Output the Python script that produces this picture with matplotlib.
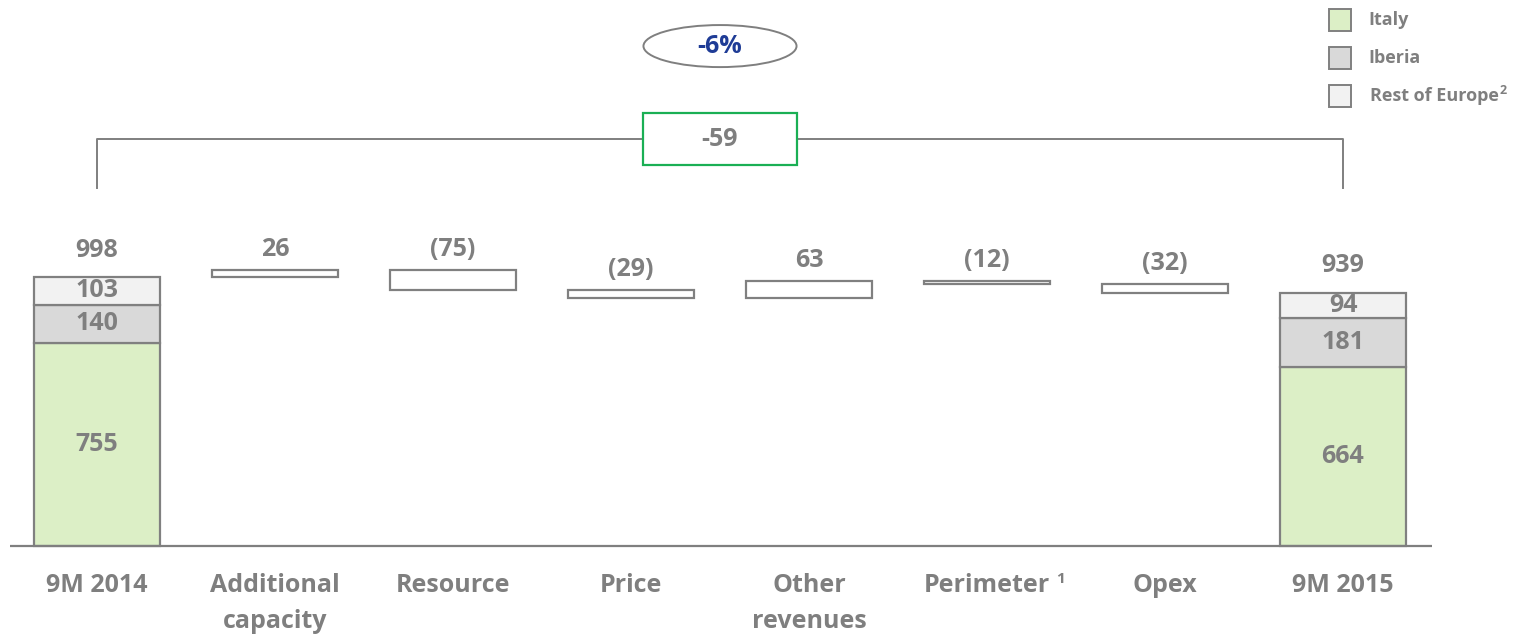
import matplotlib
matplotlib.use("Agg")
import matplotlib.pyplot as plt
from matplotlib.patches import Rectangle, Ellipse

plt.rcParams['font.family'] = ['Open Sans', 'DejaVu Sans']
plt.rcParams['font.weight'] = 'bold'

# ---- data ----
categories = ["9M 2014", "Additional\ncapacity", "Resource", "Price",
              "Other\nrevenues", "Perimeter", "Opex", "9M 2015"]
category_notes = ["", "", "", "", "", "1", "", ""]
italy = [755, 664]
iberia = [140, 181]
rest_of_europe = [103, 94]
deltas = [26, -75, -29, 63, -12, -32]
legend_labels = ["Italy", "Iberia", "Rest of Europe"]
legend_notes = ["", "", "2"]

# ---- style ----
GRAY = "#7F7F7F"
EDGE = "#808080"
C_ITALY = "#DCEFC6"
C_IBERIA = "#D9D9D9"
C_REST = "#F2F2F2"
GREEN = "#1AAF54"
BLUE = "#1F3C96"

W, H = 1525, 634
PX = 0.2695  # pixels per unit
fig = plt.figure(figsize=(W / 100, H / 100), dpi=100)
ax = fig.add_axes([0, 0, 1, 1])
ax.set_axis_off()
ax.set_xlim(-97 / 178, (W - 97) / 178)
ax.set_ylim(-88 / PX, (H - 88) / PX)

bw = 0.713
lw = 1.6
fs = 18

totals = [italy[0] + iberia[0] + rest_of_europe[0],
          italy[1] + iberia[1] + rest_of_europe[1]]
n = len(categories)
end_x = n - 1

# stacked total bars
for xi, k in ((0, 0), (end_x, 1)):
    segs = [(italy[k], C_ITALY), (iberia[k], C_IBERIA), (rest_of_europe[k], C_REST)]
    bottom = 0
    for val, col in segs:
        ax.bar(xi, val, bw, bottom=bottom, color=col, edgecolor=EDGE,
               linewidth=lw, zorder=3)
        ax.text(xi, bottom + val / 2, f"{val}", ha='center', va='center',
                color=GRAY, fontsize=fs, fontweight='bold', zorder=4)
        bottom += val
    ax.text(xi, totals[k] + 27 / PX, f"{totals[k]}", ha='center', va='center',
            color=GRAY, fontsize=fs, fontweight='bold')

# floating delta bars
level = totals[0]
for i, d in enumerate(deltas):
    xi = i + 1
    new = level + d
    lo, hi = min(level, new), max(level, new)
    ax.bar(xi, hi - lo, bw, bottom=lo, color='white', edgecolor=EDGE,
           linewidth=lw, zorder=3)
    lab = f"({abs(d)})" if d < 0 else f"{d}"
    ax.text(xi, hi + 21 / PX, lab, ha='center', va='center', color=GRAY,
            fontsize=fs, fontweight='bold')
    level = new

# baseline
ax.plot([-87 / 178, (1432 - 97) / 178], [0, 0], color=GRAY, lw=1.6, zorder=5,
        solid_capstyle='butt')

# category labels
for i, (c, note) in enumerate(zip(categories, category_notes)):
    for j, line in enumerate(c.split("\n")):
        t = ax.text(i, -(40 + 36 * j) / PX, line, ha='center', va='center',
                    color=GRAY, fontsize=fs, fontweight='bold')
    if note:
        fig.canvas.draw()
        bb = t.get_window_extent()
        ax.text((bb.x1 + 6) / W, (88 - 40 + 7) / H, note,
                transform=ax.transAxes, ha='left', va='center',
                color=GRAY, fontsize=11, fontweight='bold')

# bracket
by = 1510
mid = end_x / 2
ax.plot([0, 0, end_x, end_x], [1328, by, by, 1328], color=GRAY, lw=1.4, zorder=2)
bx_w, bx_h = 0.86, 193
ax.add_patch(Rectangle((mid - bx_w / 2, by - bx_h / 2), bx_w, bx_h,
                       facecolor='white', edgecolor=GREEN, lw=1.6, zorder=3))
ax.text(mid, by, f"{sum(deltas)}", ha='center', va='center', color=GRAY,
        fontsize=fs, fontweight='bold', zorder=4)

# percentage ellipse
pct = round(100 * sum(deltas) / totals[0])
ax.add_patch(Ellipse((mid, 1855), 0.86, 156, facecolor='white',
                     edgecolor=GRAY, lw=1.4, zorder=3))
ax.text(mid, 1855, f"{pct}%", ha='center', va='center', color=BLUE,
        fontsize=fs, fontweight='bold', zorder=4)

# legend
leg_cols = [C_ITALY, C_IBERIA, C_REST]
leg_y = [20, 58, 96]
leg_x = [1368, 1368, 1370]
for lab, note, col, py, px in zip(legend_labels, legend_notes, leg_cols, leg_y, leg_x):
    ax.add_patch(Rectangle((1329 / W, 1 - (py + 11) / H), 22 / W, 22 / H,
                           transform=ax.transAxes, facecolor=col,
                           edgecolor=EDGE, lw=1.4))
    t = ax.text(px / W, 1 - py / H, lab, transform=ax.transAxes, ha='left',
                va='center', color=GRAY, fontsize=13, fontweight='bold')
    if note:
        fig.canvas.draw()
        bb = t.get_window_extent()
        ax.text((bb.x1 + 1) / W, 1 - (py - 6) / H, note, transform=ax.transAxes,
                ha='left', va='center', color=GRAY, fontsize=9,
                fontweight='bold')

fig.savefig("out.png", dpi=100)
